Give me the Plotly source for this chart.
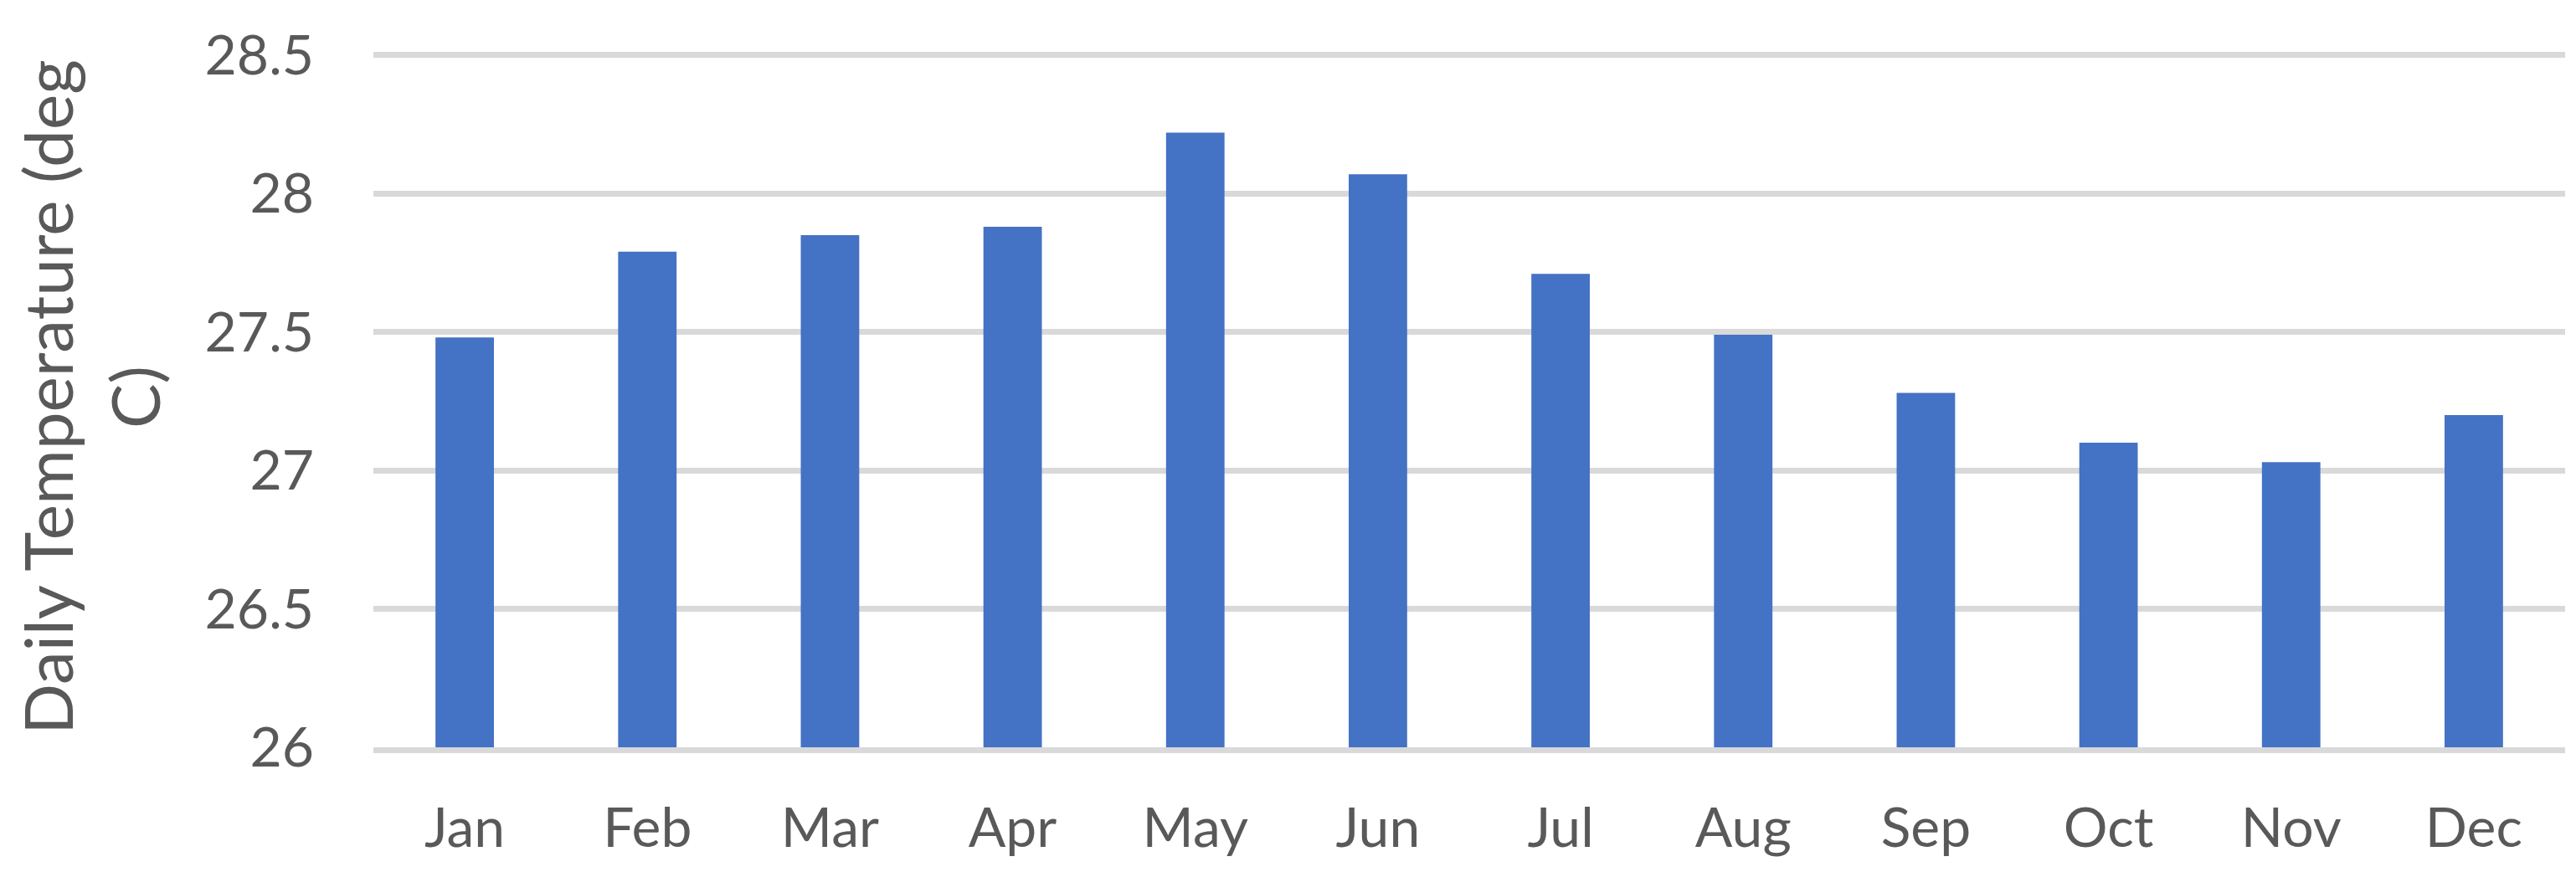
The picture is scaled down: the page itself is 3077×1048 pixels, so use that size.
import plotly.graph_objects as go

months = ["Jan", "Feb", "Mar", "Apr", "May", "Jun", "Jul", "Aug", "Sep", "Oct", "Nov", "Dec"]
temps = [27.48, 27.79, 27.85, 27.88, 28.22, 28.07, 27.71, 27.49, 27.28, 27.10, 27.03, 27.20]
y_ticks = [26, 26.5, 27, 27.5, 28, 28.5]
y_ticktext = ["26", "26.5", "27", "27.5", "28", "28.5"]

text_color = "#595959"
grid_color = "#D9D9D9"
font_family = "Lato, Carlito, Calibri, sans-serif"

fig = go.Figure(
    go.Bar(
        x=months,
        y=temps,
        marker=dict(color="#4472C4", line=dict(width=0)),
    )
)

# page body has an 8px default margin, so the figure is sized/positioned to compensate
fig.update_layout(
    width=3069,
    height=1040,
    margin=dict(l=438, r=13, t=48, b=155),
    paper_bgcolor="white",
    plot_bgcolor="white",
    bargap=0.68,
    showlegend=False,
    font=dict(family=font_family, color=text_color, size=66),
)

fig.update_xaxes(
    showgrid=False,
    showline=True,
    linecolor=grid_color,
    linewidth=7,
    zeroline=False,
    ticks="",
    tickfont=dict(size=66, color=text_color, family=font_family),
    ticklabelstandoff=33,
)

fig.update_yaxes(
    range=[26, 28.53],
    tickvals=y_ticks,
    ticktext=y_ticktext,
    showgrid=True,
    gridcolor=grid_color,
    gridwidth=7,
    zeroline=False,
    showline=False,
    ticks="",
    tickfont=dict(size=66, color=text_color, family=font_family),
    ticklabelstandoff=70,
    title=dict(
        text="Daily Temperature (deg<br>C)",
        font=dict(size=80, color=text_color, family=font_family),
        standoff=40,
    ),
)

fig.write_html("out.html")
